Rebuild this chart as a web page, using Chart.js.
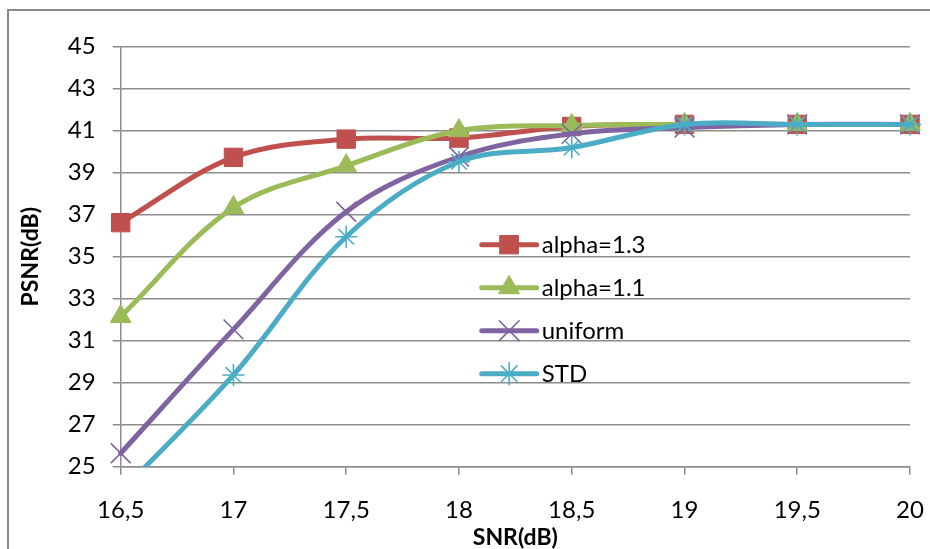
<!DOCTYPE html>
<html>
<head>
<meta charset="utf-8">
<script src="https://cdn.jsdelivr.net/npm/chart.js@4.4.1/dist/chart.umd.min.js"></script>
<style>
  html, body { margin: 0; padding: 0; background: #fff; overflow: hidden; }
  #wrap { position: relative; width: 930px; height: 549px; }
  #frame {
    position: absolute; left: 7px; top: 9px; width: 1000px; height: 1000px;
    border-left: 2px solid #8a8a8a; border-top: 2px solid #8a8a8a;
  }
  canvas { position: absolute; left: 0; top: 0; }
</style>
</head>
<body>
<div id="wrap">
  <div id="frame"></div>
  <canvas id="psnrChart" width="930" height="549"></canvas>
</div>
<script>
// ---------------- Data ----------------
const snrLabels = ["16,5", "17", "17,5", "18", "18,5", "19", "19,5", "20"];
const alpha13 = [36.62, 39.73, 40.6, 40.65, 41.2, 41.3, 41.3, 41.3];
const alpha11 = [32.15, 37.34, 39.33, 41.0, 41.25, 41.3, 41.3, 41.3];
const uniform = [25.64, 31.54, 37.14, 39.76, 40.85, 41.15, 41.3, 41.3];
const std     = [23.8, 29.37, 35.95, 39.52, 40.2, 41.3, 41.3, 41.3];
const yMin = 25, yMax = 45, yStep = 2;

const FONT = "Lato, 'Open Sans', sans-serif";
const GRID = "#8c8c8c";

// ---------------- Series styles ----------------
const series = [
  { label: "alpha=1.3", values: alpha13, color: "#C0504D", style: "rect",     radius: 13, bw: 1 },
  { label: "alpha=1.1", values: alpha11, color: "#9BBB59", style: "triangle", radius: 12, bw: 1 },
  { label: "uniform",   values: uniform, color: "#8064A2", style: "crossRot", radius: 14, bw: 1.6 },
  { label: "STD",       values: std,     color: "#4BACC6", style: "star",     radius: 11, bw: 1.6 }
];

// later series sit on top, like the original
const datasets = series.map((s, i) => ({
  label: s.label,
  data: s.values,
  order: series.length - i,
  borderColor: s.color,
  backgroundColor: s.color,
  borderWidth: 5,
  borderCapStyle: "round",
  borderJoinStyle: "round",
  tension: 0.35,
  fill: false,
  pointStyle: s.style,
  pointRadius: s.radius,
  pointHoverRadius: s.radius,
  pointBackgroundColor: s.color,
  pointBorderColor: s.color,
  pointBorderWidth: s.bw,
  clip: { left: 20, top: 20, right: 20, bottom: 0 }
}));

// ---------------- Legend inside plot ----------------
const insideLegend = {
  id: "insideLegend",
  afterDraw(chart) {
    const ctx = chart.ctx;
    const area = chart.chartArea;
    const x0 = area.left + 361;
    const y0 = area.top + 198;
    const gap = 43;
    series.forEach((s, i) => {
      const y = y0 + i * gap;
      ctx.save();
      ctx.strokeStyle = s.color;
      ctx.lineWidth = 5;
      ctx.lineCap = "round";
      ctx.beginPath();
      ctx.moveTo(x0, y);
      ctx.lineTo(x0 + 55, y);
      ctx.stroke();
      ctx.fillStyle = s.color;
      ctx.strokeStyle = s.color;
      ctx.lineWidth = s.bw;
      Chart.helpers.drawPoint(ctx, {
        pointStyle: s.style, radius: s.radius, rotation: 0, borderWidth: s.bw
      }, x0 + 27.5, y);
      ctx.fillStyle = "#000";
      ctx.font = "24px " + FONT;
      ctx.textBaseline = "middle";
      ctx.textAlign = "left";
      ctx.fillText(s.label, x0 + 60, y + 1);
      ctx.restore();
    });
  }
};

// ---------------- Chart ----------------
new Chart(document.getElementById("psnrChart"), {
  type: "line",
  data: { labels: snrLabels, datasets },
  plugins: [insideLegend],
  options: {
    responsive: false,
    animation: false,
    layout: { padding: { left: 0, top: 46.7, right: 20, bottom: 0 } },
    plugins: {
      legend: { display: false },
      tooltip: { enabled: false }
    },
    scales: {
      x: {
        type: "category",
        offset: false,
        afterFit: s => { s.height = 82.3; s.paddingLeft = 0; s.paddingRight = 0; },
        grid: { display: true, drawOnChartArea: false, drawTicks: true, tickLength: 8, color: GRID, lineWidth: 1.5 },
        border: { display: true, color: GRID, width: 1.5 },
        ticks: { color: "#000", padding: 21, maxRotation: 0, font: { family: FONT, size: 24 } },
        title: {
          display: true, text: "SNR(dB)", color: "#000",
          font: { family: FONT, size: 23, weight: "bold", lineHeight: 1 },
          padding: { top: 0, bottom: 0 }
        }
      },
      y: {
        min: yMin,
        max: yMax,
        afterFit: s => { s.width = 120.7; s.paddingTop = 0; s.paddingBottom = 0; },
        grid: { color: GRID, lineWidth: 1.5, tickLength: 8 },
        border: { display: true, color: GRID, width: 1.5 },
        ticks: { stepSize: yStep, color: "#000", padding: 17, font: { family: FONT, size: 24 } },
        title: {
          display: true, text: "PSNR(dB)", color: "#000",
          font: { family: FONT, size: 23, weight: "bold", lineHeight: 1 },
          padding: { top: 19.5, bottom: 0 }
        }
      }
    }
  }
});
</script>
</body>
</html>
